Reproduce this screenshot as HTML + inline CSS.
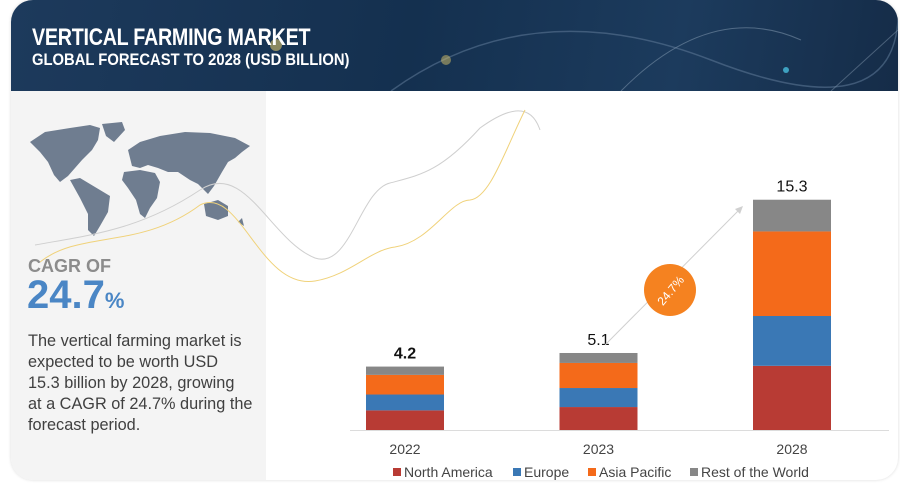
<!DOCTYPE html>
<html><head><meta charset="utf-8">
<style>
body{margin:0;width:900px;height:490px;background:#fff;overflow:hidden;font-family:"Liberation Sans",sans-serif;}
#card{position:absolute;left:11px;top:0;width:887px;height:480px;border-radius:22px;background:#fff;box-shadow:0 0 3px rgba(0,0,0,0.15);overflow:hidden;}
#hdr{position:absolute;left:0;top:0;width:887px;height:91px;background:linear-gradient(100deg,#1d3a5c 0%,#14304f 45%,#1c3b5d 75%,#152c48 100%);}
#lp{position:absolute;left:0;top:91px;width:255px;height:389px;background:#f4f4f4;}
.t1{position:absolute;left:21px;top:24px;color:#fff;font-family:"Liberation Sans Narrow","Liberation Sans",sans-serif;font-weight:bold;font-size:24px;transform:scaleX(0.82);transform-origin:left;letter-spacing:-0.3px;white-space:nowrap}
.t2{position:absolute;left:21px;top:50px;color:#fff;font-family:"Liberation Sans Narrow","Liberation Sans",sans-serif;font-weight:bold;font-size:17px;transform:scaleX(0.87);transform-origin:left;white-space:nowrap}
</style></head><body>
<div id="card">
<div id="hdr">
<svg width="887" height="91" style="position:absolute;left:0;top:0">
<path d="M380 91 Q520 -10 700 60 T887 20" stroke="#5a7593" stroke-width="1.5" fill="none" opacity="0.6"/>
<path d="M610 91 Q700 0 790 40" stroke="#8aa0b5" stroke-width="1" fill="none" opacity="0.5"/>
<path d="M820 91 L887 30" stroke="#7d93a9" stroke-width="1" fill="none" opacity="0.5"/>
<circle cx="265" cy="45" r="6" fill="#d9c36a" opacity="0.6"/>
<circle cx="435" cy="60" r="5" fill="#d9c36a" opacity="0.5"/>
<circle cx="775" cy="70" r="3" fill="#4fd0f0" opacity="0.7"/>
</svg>
<div class="t1">VERTICAL FARMING MARKET</div>
<div class="t2">GLOBAL FORECAST TO 2028 (USD BILLION)</div>
</div>
<div id="lp"></div>
</div>
<svg id="chart" width="900" height="490" style="position:absolute;left:0;top:0">
<g fill="#6f7d90">
<path d="M30 142 L45 132 L70 128 L90 125 L100 128 L98 140 L92 150 L82 160 L75 168 L68 176 L60 182 L54 175 L48 162 L40 152 Z"/>
<path d="M102 124 L122 122 L125 130 L114 142 L106 136 Z"/>
<path d="M70 180 L80 178 L95 187 L110 196 L108 212 L100 226 L94 236 L88 230 L88 214 L80 198 Z"/>
<path d="M128 150 L140 142 L160 136 L185 132 L210 133 L235 138 L250 146 L242 152 L235 158 L228 162 L222 172 L214 186 L208 194 L198 184 L190 180 L178 172 L168 172 L158 168 L148 165 L140 168 L132 166 Z"/>
<path d="M124 172 L140 170 L155 173 L160 182 L157 198 L150 208 L145 218 L140 214 L136 200 L128 188 L122 180 Z"/>
<path d="M204 204 L218 200 L228 206 L228 216 L218 220 L206 216 Z"/>
<path d="M238 222 L242 218 L244 226 Z"/>
</g>
<path d="M35 245 C90 235 140 230 200 190 C245 160 270 240 315 258 C350 270 360 190 390 183 C420 175 440 172 480 128 C505 110 530 100 540 130" stroke="#cfcfcf" stroke-width="1" fill="none"/>
<path d="M40 262 C80 230 140 250 200 205 C240 185 260 290 315 281 C350 275 370 250 395 247 C430 242 450 200 470 200 C490 198 505 150 525 110" stroke="#f0d27a" stroke-width="1" fill="none"/>
<text x="28" y="272" font-family="Liberation Sans Narrow, Liberation Sans, sans-serif" font-size="18" font-weight="bold" fill="#8c8c8c">CAGR OF</text>
<text x="27" y="308" font-family="Liberation Sans Narrow, Liberation Sans, sans-serif" font-size="40" font-weight="bold" fill="#4a86c5">24.7<tspan font-size="22">%</tspan></text>
<g font-size="16.3" fill="#404040">
<text x="28" y="346">The vertical farming market is</text>
<text x="28" y="367">expected to be worth USD</text>
<text x="28" y="388">15.3  billion by 2028, growing</text>
<text x="28" y="409">at a CAGR of 24.7% during the</text>
<text x="28" y="430">forecast period.</text>
</g>
<g id="bars"></g>
<line x1="350" y1="430.5" x2="889" y2="430.5" stroke="#dcdcdc" stroke-width="1"/>
<line x1="605" y1="345" x2="740" y2="209" stroke="#d0d0d0" stroke-width="1"/>
<polygon points="743,206 735,209 740,214" fill="#d0d0d0"/>
<circle cx="670" cy="290" r="26" fill="#f58220"/>
<text x="670" y="295" font-size="12" fill="#fff" text-anchor="middle" transform="rotate(-50 670 290)">24.7%</text>
<g id="legend"></g>
</svg>
<script>
const categories=["2022","2023","2028"];
const totals=["4.2","5.1","15.3"];
const seriesNames=["North America","Europe","Asia Pacific","Rest of the World"];
const northAmerica=[1.3,1.52,4.25];
const europe=[1.05,1.26,3.3];
const asiaPacific=[1.3,1.66,5.6];
const restOfWorld=[0.55,0.66,2.1];
const colors=["#b83b34","#3a78b5","#f46a1a","#878787"];
const NS="http://www.w3.org/2000/svg";
const base=430, scale=15.1, barW=78;
const xCenters=[405,598.5,792];
function y(v){return base-v*scale;}
function xPos(i){return xCenters[i];}
const g=document.getElementById('bars');
const series=[northAmerica,europe,asiaPacific,restOfWorld];
categories.forEach((c,i)=>{
  let cum=0;
  series.forEach((s,k)=>{
    const r=document.createElementNS(NS,'rect');
    r.setAttribute('x',xPos(i)-barW/2);
    r.setAttribute('y',y(cum+s[i]));
    r.setAttribute('width',barW);
    r.setAttribute('height',s[i]*scale);
    r.setAttribute('fill',colors[k]);
    
    
    g.appendChild(r);
    cum+=s[i];
  });
  const t=document.createElementNS(NS,'text');
  t.setAttribute('x',xPos(i));t.setAttribute('y',y(cum)-8);
  t.setAttribute('text-anchor','middle');t.setAttribute('font-size','16');
  t.setAttribute('fill','#111');
  if(i===0)t.setAttribute('font-weight','bold');
  t.textContent=totals[i];
  
  
  g.appendChild(t);
  const l=document.createElementNS(NS,'text');
  l.setAttribute('x',xPos(i));l.setAttribute('y',454);
  l.setAttribute('text-anchor','middle');l.setAttribute('font-size','14');
  l.setAttribute('fill','#444');
  l.textContent=c;
  
  
  g.appendChild(l);
});
const lg=document.getElementById('legend');
const lx=[393,513,588,690];
seriesNames.forEach((n,k)=>{
  const r=document.createElementNS(NS,'rect');
  r.setAttribute('x',lx[k]);r.setAttribute('y',468);r.setAttribute('width',8);r.setAttribute('height',8);
  r.setAttribute('fill',colors[k]);
  
  
  lg.appendChild(r);
  const t=document.createElementNS(NS,'text');
  t.setAttribute('x',lx[k]+11);t.setAttribute('y',477);t.setAttribute('font-size','14');t.setAttribute('fill','#444');
  t.textContent=n;
  
  
  lg.appendChild(t);
});
</script>
</body></html>
